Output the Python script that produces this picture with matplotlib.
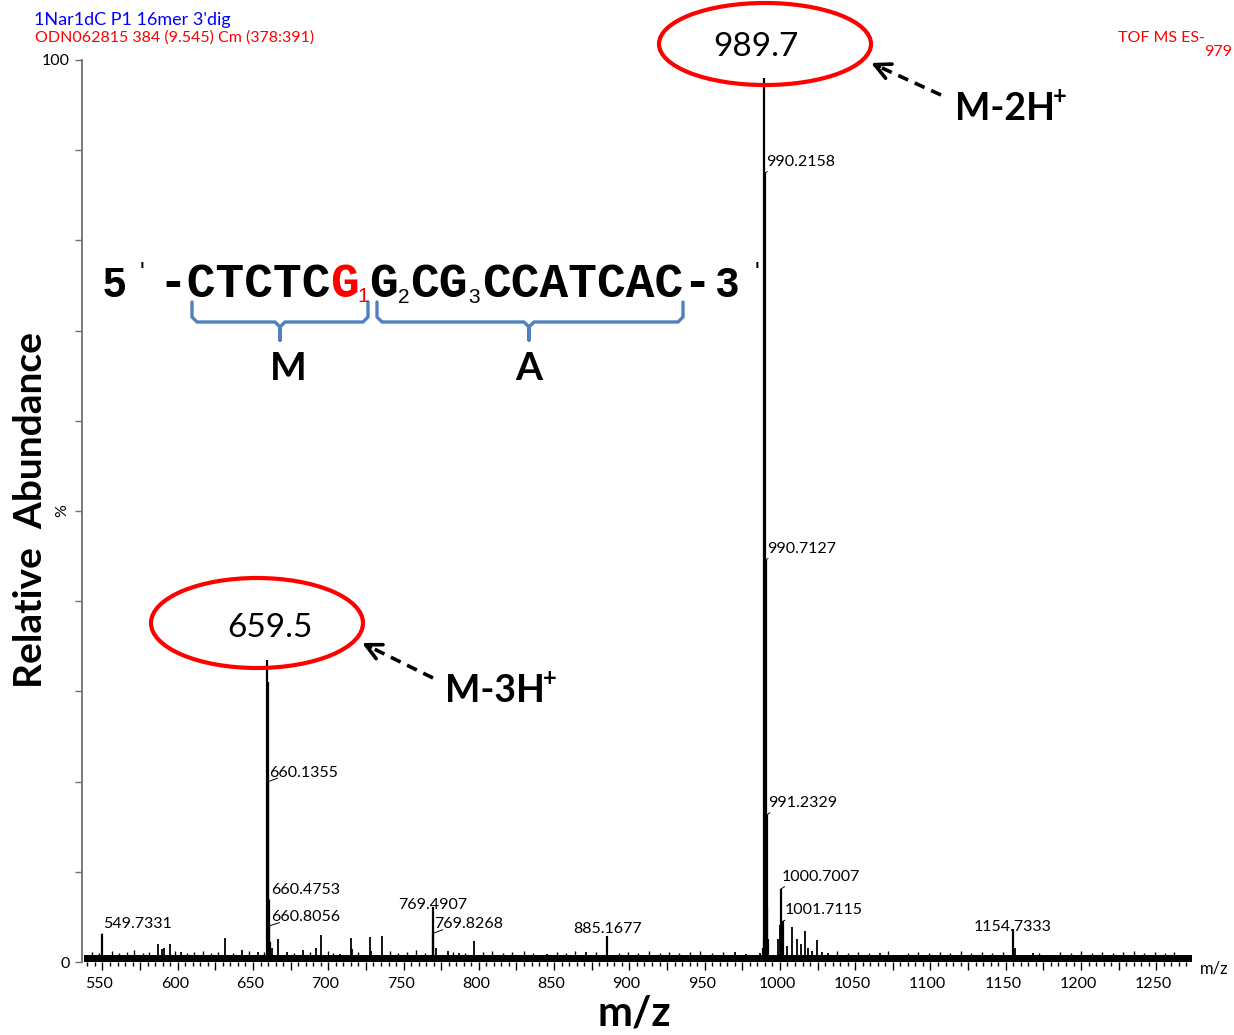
import matplotlib.pyplot as plt
from matplotlib.patches import Ellipse, FancyArrowPatch
from matplotlib.lines import Line2D
from matplotlib.ticker import MultipleLocator
from matplotlib.transforms import ScaledTranslation

plt.rcParams['font.family'] = ['Lato', 'DejaVu Sans']

W, H = 1234, 1035


def fx(x, y):
    # pixel position (origin top-left) -> figure fraction
    return x / W, 1 - y / H


# labelled centroids: m/z and relative abundance (%)
label_mz = [549.7331, 660.1355, 660.4753, 660.8056, 769.4907, 769.8268, 885.1677,
            990.2158, 990.7127, 991.2329, 1000.7007, 1001.7115, 1154.7333]
label_int = [3.1, 20.0, 6.9, 4.0, 6.1, 3.2, 2.9, 87.5, 44.6, 16.3, 8.1, 4.5, 3.7]

# the two charge states of the 16mer (their labels sit in the circles)
ion_mz = [659.47, 659.80, 661.14, 988.9, 989.25, 989.70, 991.73, 992.23]
ion_int = [33.5, 31.0, 2.2, 1.6, 2.6, 98.0, 6.0, 2.5]

# smaller unlabelled peaks
minor_mz = [586.9, 589.5, 591.0, 594.9, 602.0, 631.5, 642.8, 653.0, 662.6, 666.9, 672.4,
            683.2, 692.0, 695.2, 707.8, 714.8, 716.0, 727.6, 728.5, 735.4, 771.3, 779.3,
            787.0, 796.6, 845.0, 871.5, 970.4, 977.2, 986.7, 998.6, 999.8, 1004.5, 1007.7,
            1011.0, 1014.0, 1016.7, 1018.9, 1021.5, 1024.6, 1028.0, 1032.0, 1066.3,
            1078.7, 1156.0, 1167.8, 1179.0, 1268.0]
minor_int = [2.0, 1.4, 1.6, 2.0, 1.1, 2.7, 1.3, 1.1, 1.6, 2.5, 1.1,
             1.3, 1.6, 3.0, 0.9, 2.7, 1.4, 2.8, 1.2, 2.9, 1.6, 1.2,
             1.0, 2.3, 0.9, 1.1, 1.15, 0.9, 1.0, 2.5, 4.1, 1.8, 3.9,
             2.6, 2.0, 3.4, 1.5, 1.2, 2.4, 1.1, 1.0, 1.0,
             0.8, 1.5, 1.0, 0.8, 0.8]

# baseline grass
grass_mz = [543, 548, 556, 561, 566, 571, 577, 581, 598, 606, 611, 617, 622, 627, 637,
            647, 657, 677, 688, 700, 703, 720, 741, 746, 752, 758, 764, 783, 791, 803,
            809, 816, 822, 830, 836, 852, 858, 864, 878, 893, 899, 906, 913, 920, 926,
            933, 940, 947, 955, 962, 1038, 1045, 1052, 1059, 1072, 1085, 1092, 1099,
            1106, 1113, 1120, 1127, 1134, 1141, 1148, 1172, 1186, 1193, 1200, 1207,
            1214, 1221, 1228, 1235, 1242, 1249, 1256, 1262]
grass_int = [1.1, 1.0, 1.2, 1.0, 1.1, 1.3, 1.0, 1.1, 1.2, 1.0, 1.1, 1.2, 1.0, 1.1, 1.0,
             1.2, 1.1, 1.0, 1.1, 1.2, 1.0, 1.1, 1.2, 1.0, 1.1, 1.3, 1.0, 1.1, 1.0, 1.1,
             1.2, 1.0, 1.1, 1.2, 1.0, 1.1, 1.0, 1.2, 1.1, 1.0, 1.1, 1.0, 1.2, 1.0, 1.1,
             1.0, 1.1, 1.2, 1.0, 1.1, 1.2, 1.0, 1.1, 1.0, 1.2, 1.0, 1.1, 1.0,
             1.1, 1.0, 1.2, 1.0, 1.1, 1.0, 1.1, 1.0, 1.1, 1.0, 1.2, 1.0,
             1.1, 1.0, 1.1, 1.2, 1.0, 1.1, 1.0, 1.1]
noise_level = 0.75
mz_start, mz_end = 537.5, 1273.7

# label offsets in pixels (dx, dy) and whether a lead line is drawn
label_pos = {
    549.7331: (1, 10, True), 660.1355: (1, 9, True), 660.4753: (2, 10, True),
    660.8056: (2, 9, True), 769.4907: (0, 2, False), 769.8268: (1, 9, True),
    885.1677: (0, 7, False), 990.2158: (1, 11, True), 990.7127: (1, 11, True),
    991.2329: (1, 12, True), 1000.7007: (1, 12, True), 1001.7115: (2, 11, True),
    1154.7333: (0, 2, False),
}

fig = plt.figure(figsize=(W / 100, H / 100), dpi=100)
ax = fig.add_axes([82 / W, (H - 962) / H, (1192 - 82) / W, (962 - 60) / H])

ax.fill_between([mz_start, mz_end], 0, noise_level, color='black', lw=0)
ax.vlines(grass_mz, 0, grass_int, color='black', lw=1.0)
ax.vlines(minor_mz, 0, minor_int, color='black', lw=1.3)
ax.vlines(ion_mz, 0, ion_int, color='black', lw=1.6)
ax.vlines(label_mz, 0, label_int, color='black', lw=1.6)

for mz, inten in zip(label_mz, label_int):
    dx, dy, lead = label_pos[mz]
    if lead:
        ax.annotate(f'{mz:.4f}', xy=(mz, inten), xytext=(dx, dy), textcoords='offset pixels',
                    ha='left', va='center', fontsize=11.5,
                    arrowprops=dict(arrowstyle='-', lw=0.7, color='black',
                                    relpos=(0.12, 0.1), shrinkA=0, shrinkB=0))
    else:
        ax.annotate(f'{mz:.4f}', xy=(mz, inten), xytext=(dx, dy), textcoords='offset pixels',
                    ha='center', va='center', fontsize=11.5)

ax.set_xlim(536.4, 1273.7)
ax.set_ylim(0, 100)

xt = list(range(550, 1275, 25))
ax.set_xticks(xt)
ax.set_xticklabels([str(v) if v % 50 == 0 else '' for v in xt])
ax.xaxis.set_minor_locator(MultipleLocator(5))
ax.tick_params(axis='x', which='major', length=6, width=1, color='black', labelsize=11.5, pad=5)
ax.tick_params(axis='x', which='minor', length=3, width=1, color='black')
for lab in ax.get_xticklabels():
    lab.set_transform(lab.get_transform() + ScaledTranslation(-0.03, 0, fig.dpi_scale_trans))

yt = list(range(0, 101, 10))
ax.set_yticks(yt)
ax.set_yticklabels(['0', '', '', '', '', '%', '', '', '', '', '100'])
ax.get_yticklabels()[5].set_rotation(90)
ax.get_yticklabels()[5].set_va('center')
ax.tick_params(axis='y', length=5, width=1, color='#707070', labelsize=11.5, pad=4)

for s in ['top', 'right', 'bottom']:
    ax.spines[s].set_visible(False)
ax.spines['left'].set_color('#707070')
ax.spines['left'].set_linewidth(1.3)

# header lines
fig.text(*fx(34, 20), "1Nar1dC P1 16mer 3'dig", color='#0000ff', fontsize=13, va='center')
fig.text(*fx(35, 38), 'ODN062815 384 (9.545) Cm (378:391)', color='#ff0000', fontsize=11.5, va='center')
fig.text(*fx(1205, 38), 'TOF MS ES-', color='#ff0000', fontsize=11.5, va='center', ha='right')
fig.text(*fx(1232, 52), '979', color='#ff0000', fontsize=11.5, va='center', ha='right')

# axis titles
fig.text(*fx(31, 510), 'Relative  Abundance', rotation=90, fontsize=28, fontweight='bold',
         ha='center', va='center')
fig.text(*fx(634, 1026), 'm/z', fontsize=30, fontweight='bold', ha='center', va='baseline')
fig.text(*fx(1200, 968), 'm/z', fontsize=12, ha='left', va='center')

# sequence of the oligo
mono = dict(family='Liberation Mono', fontweight='bold', fontsize=34.5, va='baseline')
sans = dict(family='Liberation Sans', fontweight='bold', fontsize=30, va='baseline')
sub = dict(family='Liberation Sans', fontsize=15, va='baseline')
fig.text(*fx(103, 297), '5', **sans)
fig.text(*fx(140, 280), "'", family='Liberation Sans', fontsize=18, va='baseline')
fig.text(*fx(158, 297), '-CTCTC', **mono)
fig.text(*fx(330, 297), 'G', color='#ff0000', **mono)
fig.text(*fx(357, 302), '1', color='#ff0000', **sub)
fig.text(*fx(369, 297), 'G', **mono)
fig.text(*fx(398, 303), '2', **sub)
fig.text(*fx(410, 297), 'CG', **mono)
fig.text(*fx(468, 303), '3', **sub)
fig.text(*fx(482, 297), 'CCATCAC-', **mono)
fig.text(*fx(715, 297), '3', **sans)
fig.text(*fx(755, 280), "'", family='Liberation Sans', fontsize=18, va='baseline')


def brace(x0, x1, xc, y_top=302, y_bar=322, y_tip=340):
    pts = [(x0, y_top), (x0, y_bar - 5), (x0 + 5, y_bar), (xc - 5, y_bar), (xc, y_bar + 5),
           (xc, y_tip), (xc, y_bar + 5), (xc + 5, y_bar), (x1 - 5, y_bar), (x1, y_bar - 5),
           (x1, y_top)]
    xs = [p[0] / W for p in pts]
    ys = [1 - p[1] / H for p in pts]
    fig.add_artist(Line2D(xs, ys, transform=fig.transFigure, color='#4f81bd', lw=2.4,
                          solid_joinstyle='round', solid_capstyle='round'))


brace(192, 368, 280)
brace(377, 683, 529)
fig.text(*fx(288, 368), 'M', fontsize=28, fontweight='bold', ha='center', va='center')
fig.text(*fx(529, 368), 'A', fontsize=28, fontweight='bold', ha='center', va='center')

# circled base peaks
for cx, cy, txt in [(765, 44, '989.7'), (257, 623, '659.5')]:
    h = 82 if cy < 100 else 90
    fig.add_artist(Ellipse(fx(cx, cy), 212 / W, h / H, transform=fig.transFigure,
                           fill=False, ec='#ff0000', lw=3))
fig.text(*fx(756, 47), '989.7', fontsize=24, ha='center', va='center')
fig.text(*fx(270, 628), '659.5', fontsize=24, ha='center', va='center')


def dashed_arrow(tail, head):
    t = fx(*tail)
    h = fx(*head)
    mid = (h[0] + (t[0] - h[0]) * 0.12, h[1] + (t[1] - h[1]) * 0.12)
    fig.add_artist(Line2D([t[0], mid[0]], [t[1], mid[1]], transform=fig.transFigure,
                          color='black', lw=2.6, ls=(0, (3, 2))))
    fig.add_artist(FancyArrowPatch(mid, h, transform=fig.transFigure, arrowstyle='->',
                                   mutation_scale=28, lw=2.6, color='black',
                                   shrinkA=0, shrinkB=0))


dashed_arrow((941, 95), (871, 63))
dashed_arrow((433, 678), (362, 643))

for x, y, ion in [(955, 120, 'M-2H'), (445, 702, 'M-3H')]:
    fig.text(*fx(x, y), ion, fontsize=27, fontweight='bold', va='baseline')
    fig.text(*fx(x + 98, y - 16), '+', fontsize=17, fontweight='bold', va='baseline')

fig.savefig('out.png', dpi=100)
